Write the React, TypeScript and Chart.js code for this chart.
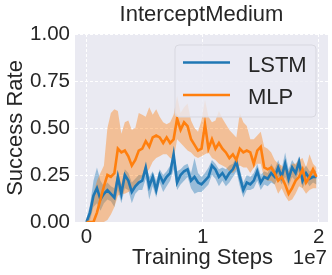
import React, { useEffect, useRef } from "react";
import { Chart, registerables } from "chart.js";

Chart.register(...registerables);

const steps = [
  0, 300000, 600000, 900000, 1200000, 1500000, 1800000, 2100000, 2400000, 2700000,
  3000000, 3300000, 3600000, 3900000, 4200000, 4500000, 4800000, 5100000, 5400000, 5700000,
  6000000, 6300000, 6600000, 6900000, 7200000, 7500000, 7800000, 8100000, 8400000, 8700000,
  9000000, 9300000, 9600000, 9900000, 10200000, 10500000, 10800000, 11100000, 11400000, 11700000,
  12000000, 12300000, 12600000, 12900000, 13200000, 13500000, 13800000, 14100000, 14400000, 14700000,
  15000000, 15300000, 15600000, 15900000, 16200000, 16500000, 16800000, 17100000, 17400000, 17700000,
  18000000, 18300000, 18600000, 18900000, 19200000, 19500000, 19800000,
];

const lstmMean = [
  0.0, 0.05, 0.14, 0.18, 0.12, 0.15, 0.17, 0.15, 0.13, 0.24,
  0.15, 0.25, 0.22, 0.16, 0.19, 0.21, 0.22, 0.29, 0.19, 0.24,
  0.17, 0.25, 0.21, 0.24, 0.26, 0.36, 0.21, 0.25, 0.27, 0.28,
  0.22, 0.24, 0.21, 0.2, 0.22, 0.24, 0.3, 0.28, 0.24, 0.26,
  0.23, 0.26, 0.28, 0.32, 0.24, 0.17, 0.21, 0.2, 0.22, 0.27,
  0.21, 0.24, 0.23, 0.26, 0.24, 0.29, 0.24, 0.31, 0.23, 0.29,
  0.26, 0.32, 0.22, 0.26, 0.23, 0.24, 0.24,
];
const lstmUpper = [
  0.02, 0.09, 0.22, 0.29, 0.22, 0.19, 0.21, 0.19, 0.18, 0.27,
  0.2, 0.28, 0.26, 0.21, 0.23, 0.25, 0.25, 0.31, 0.24, 0.27,
  0.22, 0.28, 0.25, 0.27, 0.3, 0.38, 0.27, 0.28, 0.3, 0.31,
  0.26, 0.34, 0.26, 0.24, 0.26, 0.29, 0.33, 0.31, 0.28, 0.29,
  0.28, 0.3, 0.31, 0.35, 0.28, 0.21, 0.25, 0.24, 0.26, 0.31,
  0.25, 0.27, 0.26, 0.31, 0.28, 0.33, 0.28, 0.37, 0.28, 0.33,
  0.3, 0.35, 0.27, 0.3, 0.27, 0.28, 0.27,
];
const lstmLower = [
  0.0, 0.01, 0.08, 0.1, 0.06, 0.1, 0.12, 0.11, 0.08, 0.17,
  0.1, 0.18, 0.17, 0.1, 0.15, 0.17, 0.17, 0.23, 0.12, 0.19,
  0.13, 0.21, 0.16, 0.19, 0.22, 0.28, 0.17, 0.2, 0.22, 0.24,
  0.18, 0.15, 0.16, 0.16, 0.18, 0.2, 0.25, 0.23, 0.19, 0.22,
  0.19, 0.21, 0.24, 0.27, 0.19, 0.13, 0.17, 0.17, 0.18, 0.22,
  0.17, 0.2, 0.19, 0.21, 0.2, 0.24, 0.2, 0.24, 0.19, 0.24,
  0.22, 0.27, 0.18, 0.22, 0.19, 0.21, 0.2,
];

const mlpMean = [
  0.0, 0.0, 0.0, 0.05, 0.12, 0.19, 0.25, 0.24, 0.26, 0.39,
  0.37, 0.38, 0.35, 0.3, 0.33, 0.38, 0.39, 0.43, 0.4, 0.45,
  0.46, 0.45, 0.42, 0.45, 0.42, 0.44, 0.55, 0.49, 0.53, 0.51,
  0.44, 0.41, 0.38, 0.39, 0.52, 0.39, 0.44, 0.39, 0.42, 0.39,
  0.37, 0.34, 0.36, 0.33, 0.39, 0.37, 0.38, 0.37, 0.31, 0.38,
  0.4, 0.29, 0.28, 0.29, 0.26, 0.22, 0.24, 0.2, 0.15, 0.18,
  0.22, 0.24, 0.28, 0.21, 0.24, 0.28, 0.24,
];
const mlpUpper = [
  0.0, 0.05, 0.15, 0.22, 0.26, 0.3, 0.5, 0.58, 0.6, 0.59,
  0.47, 0.53, 0.54, 0.49, 0.5, 0.58, 0.57, 0.56, 0.61, 0.57,
  0.6, 0.56, 0.53, 0.52, 0.53, 0.57, 0.67, 0.58, 0.61, 0.63,
  0.54, 0.5, 0.48, 0.54, 0.65, 0.56, 0.53, 0.54, 0.59, 0.55,
  0.52, 0.49, 0.47, 0.45, 0.58, 0.53, 0.51, 0.44, 0.44, 0.46,
  0.48, 0.4, 0.39, 0.37, 0.33, 0.31, 0.3, 0.28, 0.27, 0.31,
  0.31, 0.33, 0.34, 0.29, 0.36, 0.31, 0.29,
];
const mlpLower = [
  0.0, 0.0, 0.0, 0.0, 0.0, 0.0, 0.01, 0.04, 0.08, 0.14,
  0.15, 0.15, 0.16, 0.17, 0.19, 0.22, 0.24, 0.26, 0.28, 0.32,
  0.34, 0.35, 0.36, 0.36, 0.34, 0.33, 0.44, 0.42, 0.4, 0.38,
  0.37, 0.35, 0.34, 0.35, 0.36, 0.37, 0.34, 0.33, 0.31, 0.3,
  0.29, 0.27, 0.26, 0.28, 0.3, 0.29, 0.29, 0.26, 0.29, 0.31,
  0.31, 0.23, 0.22, 0.22, 0.2, 0.15, 0.18, 0.14, 0.11, 0.12,
  0.15, 0.19, 0.18, 0.15, 0.17, 0.18, 0.18,
];

const xTicks = [0, 10000000, 20000000];
const yTicks = [0, 0.25, 0.5, 0.75, 1.0];
const seriesNames = ["LSTM", "MLP"];
const titleText = "InterceptMedium";
const xLabel = "Training Steps";
const yLabel = "Success Rate";
const xOffsetText = "1e7";

const BLUE = "#1f77b4";
const ORANGE = "#ff7f0e";
const TEXT = "#262626";
const FONT = "'Liberation Sans', Arial, sans-serif";

const toPts = (vals: number[]) => vals.map((v, i) => ({ x: steps[i], y: v }));

const decorPlugin = {
  id: "decor",
  beforeDraw(chart: any) {
    const { ctx, chartArea } = chart;
    ctx.save();
    ctx.fillStyle = "#EAEAF2";
    ctx.fillRect(chartArea.left, chartArea.top, chartArea.right - chartArea.left, chartArea.bottom - chartArea.top);
    ctx.restore();
  },
  afterDraw(chart: any) {
    const { ctx, chartArea } = chart;
    const cx = (chartArea.left + chartArea.right) / 2;
    ctx.save();
    ctx.fillStyle = TEXT;
    ctx.font = `22px ${FONT}`;
    ctx.textAlign = "center";
    ctx.textBaseline = "alphabetic";
    ctx.fillText(titleText, cx, 20.5);
    ctx.fillText(xLabel, cx + 1, 264);
    ctx.font = `20.5px ${FONT}`;
    ctx.textAlign = "right";
    ctx.fillText(xOffsetText, 327, 264);
    ctx.save();
    ctx.translate(21.5, (chartArea.top + chartArea.bottom) / 2);
    ctx.rotate(-Math.PI / 2);
    ctx.font = `22px ${FONT}`;
    ctx.textAlign = "center";
    ctx.fillText(yLabel, 0, 0);
    ctx.restore();

    // legend
    const lx = 175, ly = 45, lw = 141, lh = 72, r = 4;
    ctx.beginPath();
    ctx.moveTo(lx + r, ly);
    ctx.lineTo(lx + lw - r, ly);
    ctx.quadraticCurveTo(lx + lw, ly, lx + lw, ly + r);
    ctx.lineTo(lx + lw, ly + lh - r);
    ctx.quadraticCurveTo(lx + lw, ly + lh, lx + lw - r, ly + lh);
    ctx.lineTo(lx + r, ly + lh);
    ctx.quadraticCurveTo(lx, ly + lh, lx, ly + lh - r);
    ctx.lineTo(lx, ly + r);
    ctx.quadraticCurveTo(lx, ly, lx + r, ly);
    ctx.closePath();
    ctx.fillStyle = "rgba(234,234,242,0.8)";
    ctx.fill();
    ctx.strokeStyle = "rgba(214,214,222,0.9)";
    ctx.lineWidth = 1;
    ctx.stroke();

    const entries = [
      { name: seriesNames[0], color: BLUE, y: 62.5, base: 71.5 },
      { name: seriesNames[1], color: ORANGE, y: 95, base: 103.5 },
    ];
    entries.forEach((e) => {
      ctx.beginPath();
      ctx.moveTo(183, e.y);
      ctx.lineTo(230, e.y);
      ctx.strokeStyle = e.color;
      ctx.lineWidth = 2.6;
      ctx.lineCap = "butt";
      ctx.stroke();
      ctx.fillStyle = TEXT;
      ctx.font = `22px ${FONT}`;
      ctx.textAlign = "left";
      ctx.textBaseline = "alphabetic";
      ctx.fillText(e.name, 248, e.base);
    });
    ctx.restore();
  },
};

export default function App() {
  const ref = useRef<HTMLCanvasElement | null>(null);
  useEffect(() => {
    if (!ref.current) return;
    const band = (data: number[], color: string, fill: any, order: number) => ({
      data: toPts(data),
      borderWidth: 0,
      pointRadius: 0,
      backgroundColor: color,
      borderColor: "transparent",
      fill,
      tension: 0,
      order,
    });
    const chart = new Chart(ref.current, {
      type: "line",
      data: {
        datasets: [
          band(lstmLower, "rgba(31,119,180,0.4)", false, 5),
          band(lstmUpper, "rgba(31,119,180,0.4)", "-1", 4),
          band(mlpLower, "rgba(255,127,14,0.4)", false, 3),
          band(mlpUpper, "rgba(255,127,14,0.4)", "-1", 2),
          {
            label: seriesNames[0],
            data: toPts(lstmMean),
            borderColor: BLUE,
            borderWidth: 2.6,
            pointRadius: 0,
            fill: false,
            tension: 0,
            order: 1,
          },
          {
            label: seriesNames[1],
            data: toPts(mlpMean),
            borderColor: ORANGE,
            borderWidth: 2.6,
            pointRadius: 0,
            fill: false,
            tension: 0,
            order: 0,
          },
        ],
      },
      options: {
        animation: false,
        responsive: false,
        maintainAspectRatio: false,
        layout: { padding: { top: 34, right: 4, left: 0, bottom: 0 } },
        plugins: {
          legend: { display: false },
          title: { display: false },
          tooltip: { enabled: false },
        },
        scales: {
          x: {
            type: "linear",
            min: -990000,
            max: 20790000,
            afterBuildTicks: (s: any) => {
              s.ticks = xTicks.map((v) => ({ value: v }));
            },
            afterFit: (s: any) => {
              s.height = 53;
            },
            ticks: {
              autoSkip: false,
              maxRotation: 0,
              padding: 3,
              color: TEXT,
              font: { family: FONT, size: 20.5 },
              callback: (v: any) => String(Number(v) / 1e7),
            },
            grid: { color: "#ffffff", lineWidth: 1, drawTicks: false },
            border: { display: false, dash: [3, 2] },
          },
          y: {
            type: "linear",
            min: 0,
            max: 1,
            afterBuildTicks: (s: any) => {
              s.ticks = yTicks.map((v) => ({ value: v }));
            },
            afterFit: (s: any) => {
              s.width = 75;
            },
            ticks: {
              autoSkip: false,
              padding: 5,
              color: TEXT,
              font: { family: FONT, size: 20.5 },
              callback: (v: any) => Number(v).toFixed(2),
            },
            grid: { color: "#ffffff", lineWidth: 1, drawTicks: false },
            border: { display: false, dash: [3, 2] },
          },
        },
      },
      plugins: [decorPlugin],
    } as any);
    return () => chart.destroy();
  }, []);
  return (
    <div style={{ position: "absolute", left: 0, top: 0, width: 332, height: 275, background: "#fff" }}>
      <canvas ref={ref} width={332} height={275} style={{ width: 332, height: 275 }} />
    </div>
  );
}
